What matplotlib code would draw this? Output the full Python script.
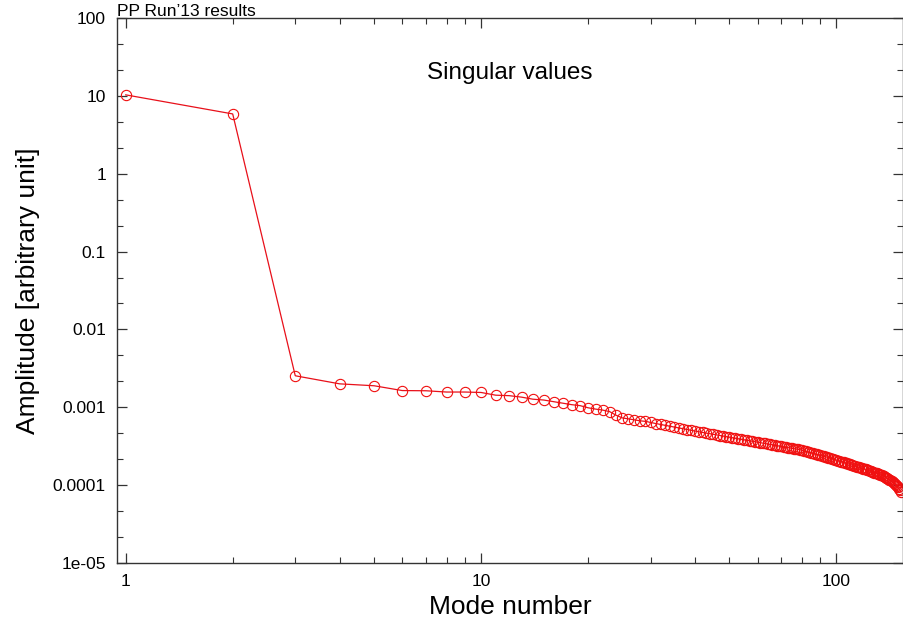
import matplotlib
matplotlib.use("Agg")
import matplotlib.pyplot as plt
from matplotlib.ticker import LogLocator, NullFormatter, FixedLocator, FixedFormatter
import numpy as np

plt.rcParams['font.family'] = ['Liberation Sans', 'DejaVu Sans']

# Singular values of the decomposition, one per mode (mode numbers start at 1)
singular_values = [
    10.3, 5.86, 0.00254, 0.00200, 0.00189, 0.00164, 0.00163, 0.00157, 0.00157, 0.00155,
    0.00143, 0.00141, 0.00135, 0.00127, 0.00124, 0.00118, 0.00113, 0.00108, 0.00105, 0.000986,
    0.000948, 0.00092, 0.00088, 0.00079, 0.00073, 0.00071, 0.00069, 0.00067, 0.00066, 0.000638,
    0.000619, 0.000602, 0.000586, 0.000571, 0.000557, 0.000543, 0.000530, 0.000518, 0.000506, 0.000495,
    0.000484, 0.000475, 0.000467, 0.000458, 0.000450, 0.000442, 0.000434, 0.000427, 0.000420, 0.000413,
    0.000406, 0.000400, 0.000394, 0.000388, 0.000383, 0.000377, 0.000372, 0.000366, 0.000361, 0.000356,
    0.000352, 0.000347, 0.000343, 0.000338, 0.000334, 0.000330, 0.000326, 0.000322, 0.000318, 0.000314,
    0.000310, 0.000307, 0.000303, 0.000300, 0.000297, 0.000294, 0.000291, 0.000288, 0.000285, 0.000281,
    0.000276, 0.000272, 0.000268, 0.000264, 0.000260, 0.000256, 0.000252, 0.000249, 0.000245, 0.000242,
    0.000238, 0.000235, 0.000232, 0.000229, 0.000226, 0.000223, 0.000219, 0.000216, 0.000213, 0.000210,
    0.000207, 0.000204, 0.000201, 0.000199, 0.000196, 0.000193, 0.000191, 0.000188, 0.000185, 0.000183,
    0.000180, 0.000178, 0.000176, 0.000173, 0.000171, 0.000169, 0.000167, 0.000165, 0.000163, 0.000161,
    0.000159, 0.000157, 0.000155, 0.000153, 0.000151, 0.000149, 0.000147, 0.000145, 0.000144, 0.000142,
    0.000140, 0.000138, 0.000136, 0.000134, 0.000132, 0.000130, 0.000128, 0.000125, 0.000123, 0.000121,
    0.000118, 0.000116, 0.000113, 0.000110, 0.000107, 0.000104, 0.000101, 0.0000975, 0.0000935, 0.0000895,
    0.0000855, 0.000082,
]
mode_numbers = list(range(1, len(singular_values) + 1))

x_ticks = [1, 10, 100]
x_tick_labels = ["1", "10", "100"]
y_ticks = [1e-5, 1e-4, 1e-3, 1e-2, 1e-1, 1, 10, 100]
y_tick_labels = ["1e-05", "0.0001", "0.001", "0.01", "0.1", "1", "10", "100"]

W, H = 904, 623
fig = plt.figure(figsize=(W / 100, H / 100), dpi=100)
ax = fig.add_axes([117 / W, 1 - 563 / H, (903 - 117) / W, (563 - 18) / H])

ax.plot(mode_numbers, singular_values, color="#e8101a", lw=0.9,
        marker="o", markersize=7.4, markerfacecolor="none",
        markeredgecolor="#f01010", markeredgewidth=0.8, clip_on=True)

ax.set_xscale("log")
ax.set_yscale("log")
ax.set_xlim(0.945, 154)
ax.set_ylim(1e-5, 100)

ax.xaxis.set_major_locator(FixedLocator(x_ticks))
ax.xaxis.set_major_formatter(FixedFormatter(x_tick_labels))
ax.xaxis.set_minor_locator(LogLocator(base=10, subs=np.arange(2, 10)))
ax.xaxis.set_minor_formatter(NullFormatter())

ax.yaxis.set_major_locator(FixedLocator(y_ticks))
ax.yaxis.set_major_formatter(FixedFormatter(y_tick_labels))
ax.yaxis.set_minor_locator(LogLocator(base=10, subs=(10 ** (1 / 3), 10 ** (2 / 3))))
ax.yaxis.set_minor_formatter(NullFormatter())

ax.tick_params(which="both", direction="in", top=True, right=True, color="#333333")
ax.tick_params(which="major", length=7, width=0.9, labelsize=12.5, pad=8)
ax.tick_params(which="minor", length=4, width=0.8)
for s in ax.spines.values():
    s.set_color("#333333")
    s.set_linewidth(1.0)

ax.set_xlabel("Mode number", fontsize=19, labelpad=4)
ax.set_ylabel("Amplitude [arbitrary unit]", fontsize=19, labelpad=9)

ax.text(0.5, 0.90, "Singular values", transform=ax.transAxes, ha="center",
        va="center", fontsize=17.5)
fig.text(117 / W, 1 - 16 / H, "PP Run\u201913 results", ha="left", va="baseline",
         fontsize=12.5)

fig.savefig("out.png", dpi=100)
